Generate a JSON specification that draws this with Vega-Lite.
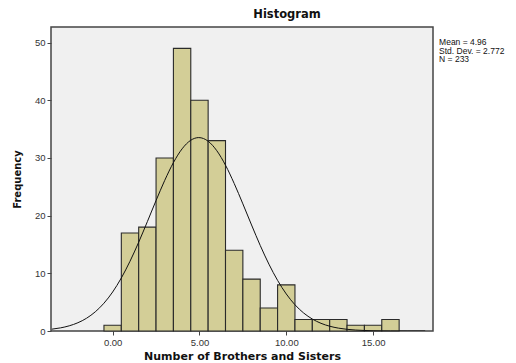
{
  "$schema": "https://vega.github.io/schema/vega-lite/v6.json",
  "autosize": "none",
  "width": 382,
  "height": 304,
  "padding": {"left": 51, "top": 27, "right": 83, "bottom": 32},
  "background": "white",
  "config": {
    "font": "Liberation Sans",
    "view": {"fill": "#f0f0f0", "stroke": "#444444", "strokeWidth": 1.5},
    "axis": {"grid": false, "domain": false, "labelFont": "Liberation Sans", "labelFontSize": 9.5, "labelColor": "#333333", "tickColor": "#444444", "tickSize": 4, "labelPadding": 2, "titleFont": "DejaVu Sans", "titleFontWeight": "bold", "titleColor": "#111111"}
  },
  "title": {"text": "Histogram", "fontSize": 11.5, "fontWeight": "bold", "font": "DejaVu Sans", "color": "#111111", "anchor": "middle", "dx": 45, "offset": 7},
  "datasets": {
    "bins": [
      {"value": 0, "lo": -0.5, "hi": 0.5, "count": 1},
      {"value": 1, "lo": 0.5, "hi": 1.5, "count": 17},
      {"value": 2, "lo": 1.5, "hi": 2.5, "count": 18},
      {"value": 3, "lo": 2.5, "hi": 3.5, "count": 30},
      {"value": 4, "lo": 3.5, "hi": 4.5, "count": 49},
      {"value": 5, "lo": 4.5, "hi": 5.5, "count": 40},
      {"value": 6, "lo": 5.5, "hi": 6.5, "count": 33},
      {"value": 7, "lo": 6.5, "hi": 7.5, "count": 14},
      {"value": 8, "lo": 7.5, "hi": 8.5, "count": 9},
      {"value": 9, "lo": 8.5, "hi": 9.5, "count": 4},
      {"value": 10, "lo": 9.5, "hi": 10.5, "count": 8},
      {"value": 11, "lo": 10.5, "hi": 11.5, "count": 2},
      {"value": 12, "lo": 11.5, "hi": 12.5, "count": 2},
      {"value": 13, "lo": 12.5, "hi": 13.5, "count": 2},
      {"value": 14, "lo": 13.5, "hi": 14.5, "count": 1},
      {"value": 15, "lo": 14.5, "hi": 15.5, "count": 1},
      {"value": 16, "lo": 15.5, "hi": 16.5, "count": 2}
    ],
    "curve": [
      {"x": -3.5, "y": 0.319}, {"x": -3, "y": 0.543}, {"x": -2.5, "y": 0.897}, {"x": -2, "y": 1.434},
      {"x": -1.5, "y": 2.218}, {"x": -1, "y": 3.325}, {"x": -0.5, "y": 4.82}, {"x": 0, "y": 6.76},
      {"x": 0.5, "y": 9.19}, {"x": 1, "y": 12.09}, {"x": 1.5, "y": 15.39}, {"x": 2, "y": 18.96},
      {"x": 2.5, "y": 22.62}, {"x": 3, "y": 26.11}, {"x": 3.5, "y": 29.19}, {"x": 4, "y": 31.58},
      {"x": 4.5, "y": 33.07}, {"x": 4.96, "y": 33.53}, {"x": 5.5, "y": 32.9}, {"x": 6, "y": 31.25},
      {"x": 6.5, "y": 28.74}, {"x": 7, "y": 25.58}, {"x": 7.5, "y": 22.04}, {"x": 8, "y": 18.38},
      {"x": 8.5, "y": 14.83}, {"x": 9, "y": 11.59}, {"x": 9.5, "y": 8.77}, {"x": 10, "y": 6.42},
      {"x": 10.5, "y": 4.55}, {"x": 11, "y": 3.12}, {"x": 11.5, "y": 2.075}, {"x": 12, "y": 1.332},
      {"x": 12.5, "y": 0.83}, {"x": 13, "y": 0.5}, {"x": 13.5, "y": 0.291}, {"x": 14, "y": 0.164},
      {"x": 14.5, "y": 0.09}, {"x": 15, "y": 0.0475}, {"x": 15.5, "y": 0.024}, {"x": 16, "y": 0.012},
      {"x": 16.5, "y": 0.006}, {"x": 17, "y": 0.003}, {"x": 18, "y": 0.001}
    ],
    "stats": [
      {"line": "Mean = 4.96", "sx": 18.8, "sy": 50.8},
      {"line": "Std. Dev. = 2.772", "sx": 18.8, "sy": 49.3},
      {"line": "N = 233", "sx": 18.8, "sy": 47.8}
    ]
  },
  "layer": [
    {
      "data": {"name": "bins"},
      "mark": {"type": "rect", "fill": "#d3ce97", "stroke": "#2a2a2a", "strokeWidth": 1.1},
      "encoding": {
        "x": {"field": "lo", "type": "quantitative", "scale": {"domain": [-3.55, 18.45], "nice": false, "zero": false},
              "axis": {"values": [0, 5, 10, 15], "format": ".2f", "title": "Number of Brothers and Sisters", "titleFontSize": 11, "titleY": 25, "titleBaseline": "middle"}},
        "x2": {"field": "hi"},
        "y": {"field": "count", "type": "quantitative", "scale": {"domain": [0, 52.7], "nice": false},
              "axis": {"values": [0, 10, 20, 30, 40, 50], "title": "Frequency", "titleFontSize": 10, "titleX": -34, "titleY": 152, "titleAngle": -90, "titleAlign": "center", "titleBaseline": "middle"}},
        "y2": {"datum": 0}
      }
    },
    {
      "data": {"name": "curve"},
      "mark": {"type": "line", "color": "#111111", "strokeWidth": 1, "interpolate": "monotone", "clip": true},
      "encoding": {
        "x": {"field": "x", "type": "quantitative"},
        "y": {"field": "y", "type": "quantitative"}
      }
    },
    {
      "data": {"name": "stats"},
      "mark": {"type": "text", "align": "left", "baseline": "top", "fontSize": 8.5, "font": "Liberation Sans", "color": "#111111", "clip": false},
      "encoding": {
        "x": {"field": "sx", "type": "quantitative"},
        "y": {"field": "sy", "type": "quantitative"},
        "text": {"field": "line"}
      }
    }
  ]
}
